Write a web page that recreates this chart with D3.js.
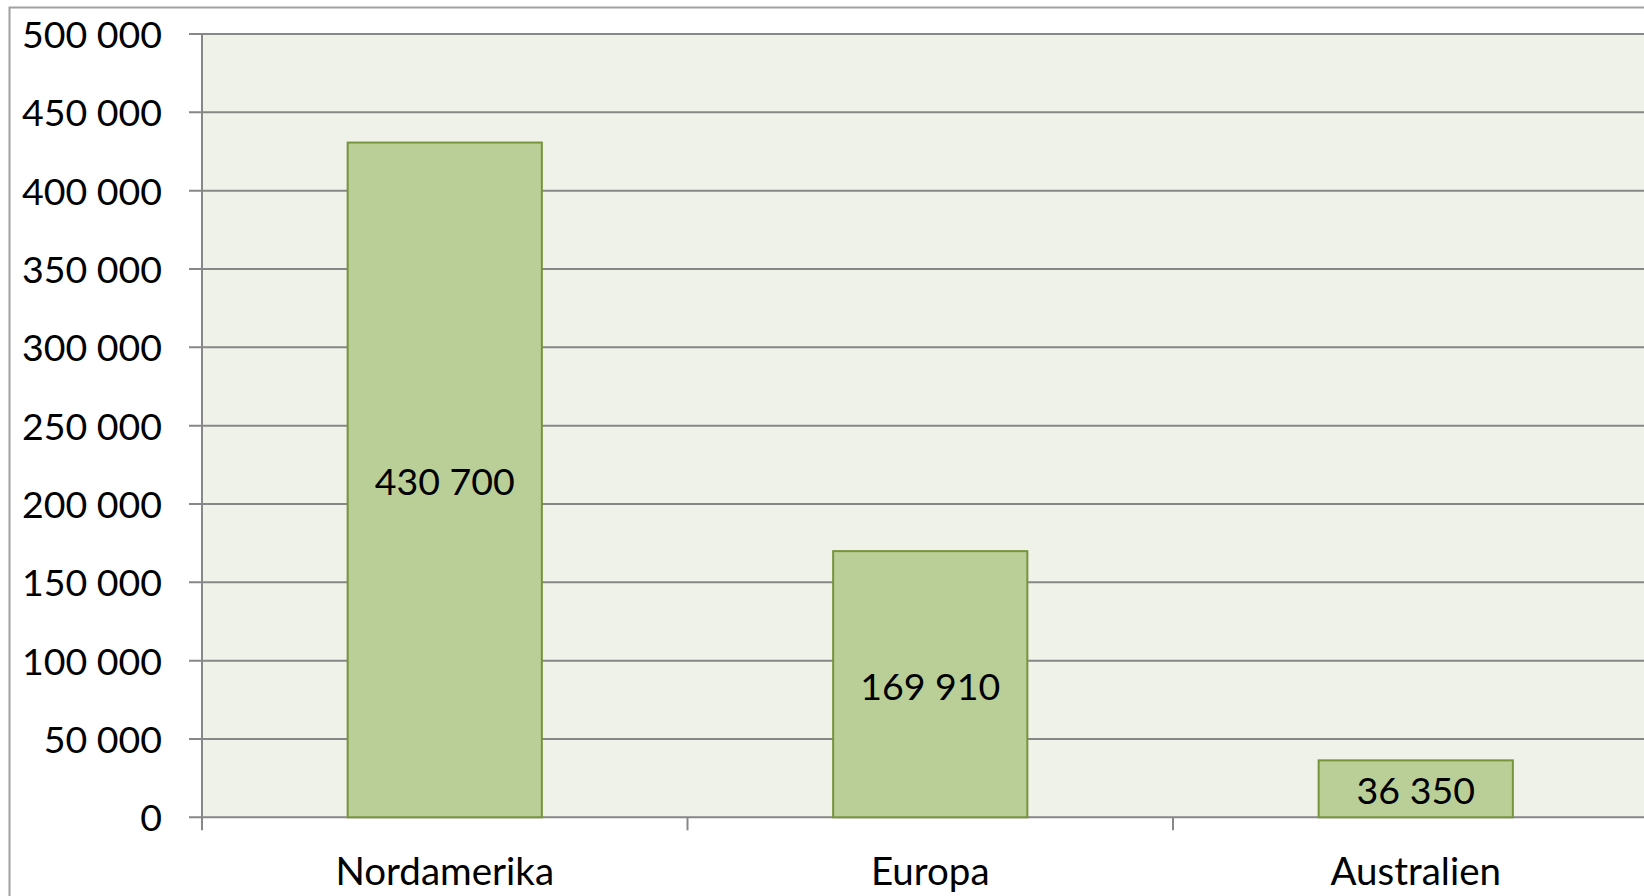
<!DOCTYPE html>
<html>
<head>
<meta charset="utf-8">
<script src="https://cdn.jsdelivr.net/npm/d3@7"></script>
<style>
  html, body { margin: 0; padding: 0; background: #fff; overflow: hidden; }
  svg { display: block; font-family: Lato, "Open Sans", sans-serif; }
  .grid line { stroke: #878787; stroke-width: 2; }
  .bar { fill: #BACE97; stroke: #77933C; stroke-width: 2; }
  text { fill: #000; font-size: 37.5px; }
</style>
</head>
<body>
<svg id="chart" width="1644" height="896"></svg>
<script>
// data
const regions = ['Nordamerika', 'Europa', 'Australien'];
const amounts = [430700, 169910, 36350];
const yTicks = [0, 50000, 100000, 150000, 200000, 250000, 300000, 350000, 400000, 450000, 500000];

const svg = d3.select('#chart');

// plot area (right edge runs past the picture, as in the original)
const plotLeft = 202, plotTop = 34, plotBottom = 817.3;
const step = 485.5;
const plotRight = plotLeft + step * regions.length;

const fmt = v => d3.format(',')(v).replace(/,/g, ' ');

let y = d3.scaleLinear()
    .domain([0, 500000])
    .range([plotBottom, plotTop]);

let x = d3.scaleBand()
    .domain(regions)
    .range([plotLeft, plotRight])
    .paddingInner(0.6)
    .paddingOuter(0.3);

// category slots, ticks sit on their edges
let slots = d3.scaleBand()
    .domain(regions)
    .range([plotLeft, plotRight]);

// outer chart frame, cut off right and bottom
svg.append('rect')
    .attr('x', 9.5).attr('y', 7.5)
    .attr('width', 3000).attr('height', 3000)
    .attr('fill', 'none')
    .attr('stroke', '#a0a0a0')
    .attr('stroke-width', 2);

// plot background
svg.append('rect')
    .attr('x', plotLeft).attr('y', plotTop)
    .attr('width', plotRight - plotLeft).attr('height', plotBottom - plotTop)
    .attr('fill', '#EFF2E8');

// horizontal gridlines + left ticks
let grid = svg.append('g').attr('class', 'grid');
grid.selectAll('line.h')
    .data(yTicks)
    .enter().append('line')
        .attr('class', 'h')
        .attr('x1', plotLeft - 13)
        .attr('x2', plotRight)
        .attr('y1', d => y(d))
        .attr('y2', d => y(d));

// y axis line
grid.append('line')
    .attr('x1', plotLeft).attr('x2', plotLeft)
    .attr('y1', plotTop).attr('y2', plotBottom + 13);

// category tick marks at slot boundaries
grid.selectAll('line.v')
    .data(regions.slice(1))
    .enter().append('line')
        .attr('class', 'v')
        .attr('x1', d => slots(d))
        .attr('x2', d => slots(d))
        .attr('y1', plotBottom)
        .attr('y2', plotBottom + 13);

// y labels
svg.append('g').selectAll('text')
    .data(yTicks)
    .enter().append('text')
        .attr('x', 162)
        .attr('y', d => y(d))
        .attr('dy', '0.37em')
        .attr('text-anchor', 'end')
        .text(fmt);

// bars
svg.append('g').selectAll('rect')
    .data(amounts)
    .enter().append('rect')
        .attr('class', 'bar')
        .attr('x', (d, i) => x(regions[i]))
        .attr('y', d => y(d))
        .attr('width', x.bandwidth())
        .attr('height', d => y(0) - y(d));

// value labels centred in bars
svg.append('g').selectAll('text')
    .data(amounts)
    .enter().append('text')
        .attr('x', (d, i) => x(regions[i]) + x.bandwidth() / 2)
        .attr('y', d => (y(d) + y(0)) / 2)
        .attr('dy', '0.41em')
        .attr('text-anchor', 'middle')
        .text(fmt);

// category labels
svg.append('g').selectAll('text')
    .data(regions)
    .enter().append('text')
        .attr('x', d => slots(d) + slots.bandwidth() / 2)
        .attr('y', 885)
        .attr('text-anchor', 'middle')
        .style('font-size', '38.5px')
        .text(d => d);
</script>
</body>
</html>
